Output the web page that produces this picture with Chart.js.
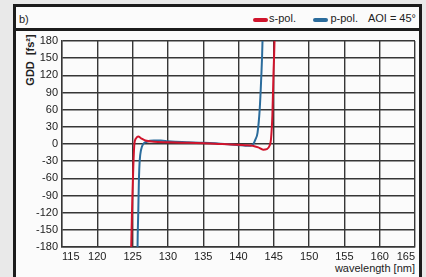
<!DOCTYPE html>
<html>
<head>
<meta charset="utf-8">
<script src="https://cdn.jsdelivr.net/npm/chart.js@4"></script>
<style>
  html, body { margin: 0; padding: 0; }
  body { width: 426px; height: 277px; background: #e9e9e9; position: relative; overflow: hidden;
         font-family: 'Liberation Sans', Arial, sans-serif; color: #222; }
  .box { position: absolute; left: 13px; top: 4px; width: 403px; height: 300px;
         border: 3px solid #1c1c1c; background: #fbfbfb; }
  .head { position: absolute; left: 0; top: 0; right: 0; height: 21px; border-bottom: 3px solid #1c1c1c; }
  .lbl { position: absolute; font-size: 11px; line-height: 13px; white-space: nowrap; }
  .sw { position: absolute; height: 4px; border-radius: 2px; }
  .ytitle { position: absolute; left: 30px; top: 60px; font-size: 11px; font-weight: bold; white-space: nowrap;
            transform: translate(-50%, -50%) rotate(-90deg); }
  canvas { position: absolute; left: 0; top: 0; }
</style>
</head>
<body>
<div class="box">
  <div class="head">
    <span class="lbl" style="left:3px; top:6px;">b)</span>
    <span class="sw" style="left:237px; top:11px; width:15px; background:#d0142c;"></span>
    <span class="lbl" style="right:123px; top:5px;">s-pol.</span>
    <span class="sw" style="left:297px; top:11px; width:15px; background:#2b6c9c;"></span>
    <span class="lbl" style="right:61px; top:5px;">p-pol.</span>
    <span class="lbl" style="right:3px; top:5px;">AOI = 45°</span>
  </div>
</div>
<span class="ytitle">GDD&nbsp;&nbsp;[fs²]</span>
<span class="lbl" style="right:11px; top:262px;">wavelength [nm]</span>
<canvas id="chart" width="426" height="277"></canvas>
<script>
// ---- data ----
const X_TICKS = [115, 120, 125, 130, 135, 140, 145, 150, 155, 160, 165];
const Y_TICKS = [-180, -150, -120, -90, -60, -30, 0, 30, 60, 90, 120, 150, 180];

const S_POL_NM  = [124.7, 124.8, 124.95, 125.1, 125.25, 125.5, 125.8, 126.2, 126.8, 128, 130, 133, 136, 139, 141, 142, 142.8, 143.5, 144.0, 144.4, 144.6, 144.8, 144.95, 145.1, 145.2];
const S_POL_GDD = [-260, -180, -100, -40, 0, 10, 13, 10, 6, 4, 3, 2, 1, -1, -2, -3, -6, -10, -9, -3, 8, 50, 120, 180, 260];

const P_POL_NM  = [125.65, 125.7, 125.8, 125.9, 126.0, 126.2, 126.5, 127, 128, 129, 130, 132, 135, 138, 140, 141, 141.7, 142.1, 142.4, 142.7, 143.0, 143.2, 143.4, 143.5];
const P_POL_GDD = [-260, -180, -120, -60, -30, -10, 0, 4, 6, 6, 5, 3.5, 2, 0, -2, -3, -3, 0, 8, 20, 60, 110, 180, 260];

const FONT = "'Liberation Sans', Arial, sans-serif";
const GRID = '#363636';

const toPoints = (xs, ys) => xs.map((x, i) => ({ x, y: ys[i] }));

new Chart(document.getElementById('chart'), {
  type: 'line',
  data: {
    datasets: [
      {
        label: 's-pol.',
        data: toPoints(S_POL_NM, S_POL_GDD),
        borderColor: '#d0142c',
        borderWidth: 2,
        pointRadius: 0,
        cubicInterpolationMode: 'monotone',
        fill: false,
      },
      {
        label: 'p-pol.',
        data: toPoints(P_POL_NM, P_POL_GDD),
        borderColor: '#2b6c9c',
        borderWidth: 2,
        pointRadius: 0,
        cubicInterpolationMode: 'monotone',
        fill: false,
      },
    ],
  },
  options: {
    responsive: false,
    animation: false,
    events: [],
    layout: { padding: { top: 41, right: 11, left: 0, bottom: 0 } },
    plugins: { legend: { display: false }, tooltip: { enabled: false } },
    scales: {
      x: {
        type: 'linear',
        min: 115, max: 165,
        afterBuildTicks: s => { s.ticks = X_TICKS.map(v => ({ value: v })); },
        afterFit: s => { s.height = 30; },
        ticks: { color: '#222', font: { family: FONT, size: 11 }, padding: 3, maxRotation: 0,
                 autoSkip: false, align: 'inner' },
        grid: { color: GRID, lineWidth: 1.4, drawTicks: false },
        border: { color: GRID, width: 1.4 },
      },
      y: {
        min: -180, max: 180,
        afterBuildTicks: s => { s.ticks = Y_TICKS.map(v => ({ value: v })); },
        afterFit: s => { s.width = 62; },
        ticks: { color: '#222', font: { family: FONT, size: 11 }, padding: 4, autoSkip: false },
        grid: { color: GRID, lineWidth: 1.4, drawTicks: false },
        border: { color: GRID, width: 1.4 },
      },
    },
  },
});
</script>
</body>
</html>
